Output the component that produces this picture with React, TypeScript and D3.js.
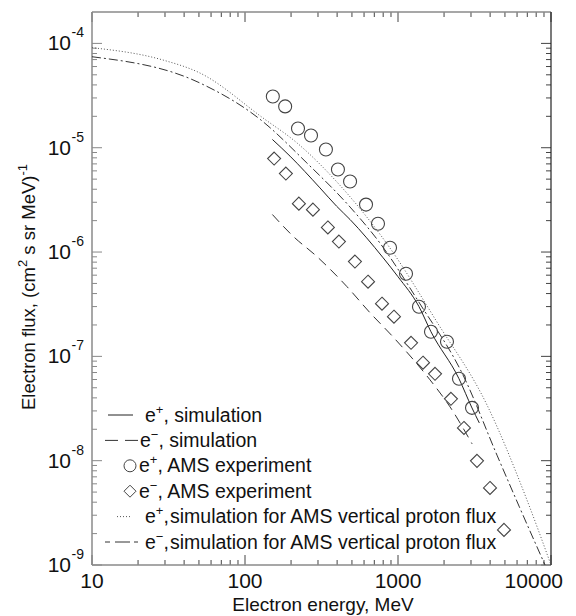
import * as d3 from "d3";

// e+ AMS experiment (circles)
const posE = [152, 183, 222, 270, 338, 405, 486, 618, 740, 887, 1128, 1371, 1643, 2090, 2504, 3046];
const posF = [3.1e-5, 2.49e-5, 1.53e-5, 1.31e-5, 9.6e-6, 6.18e-6, 4.74e-6, 2.85e-6, 1.87e-6, 1.1e-6, 6.2e-7, 2.99e-7, 1.72e-7, 1.38e-7, 6.1e-8, 3.21e-8];

// e- AMS experiment (diamonds)
const eleE = [155, 185, 225, 278, 348, 411, 523, 637, 786, 941, 1217, 1457, 1746, 2218, 2698, 3283, 3993, 4929];
const eleF = [7.87e-6, 5.65e-6, 2.91e-6, 2.55e-6, 1.72e-6, 1.26e-6, 8.1e-7, 5.2e-7, 3.2e-7, 2.4e-7, 1.35e-7, 8.7e-8, 6.8e-8, 3.92e-8, 2.06e-8, 9.96e-9, 5.48e-9, 2.17e-9];

// e+ simulation (solid)
const simPosE = [151, 197, 309, 397, 486, 800, 1000, 1371, 1643, 2504, 3046, 3400];
const simPosF = [1.2e-5, 8.3e-6, 4.12e-6, 2.75e-6, 2.05e-6, 8.8e-7, 5.8e-7, 3.0e-7, 1.72e-7, 6.1e-8, 3.2e-8, 2.3e-8];

// e- simulation (dashed)
const simEleE = [151, 206, 294, 462, 656, 927, 1618, 2188, 3050];
const simEleF = [2.29e-6, 1.42e-6, 9.1e-7, 4.69e-7, 2.62e-7, 1.54e-7, 5.96e-8, 3.28e-8, 1.45e-8];

// e+ simulation for AMS vertical proton flux (dotted)
const vertPosE = [10, 29.1, 50.8, 131, 219, 399, 887, 1799, 3820, 6970, 10000];
const vertPosF = [9.1e-5, 6.93e-5, 5.2e-5, 1.93e-5, 1.11e-5, 4.69e-6, 1.09e-6, 2.13e-7, 3.41e-8, 4.19e-9, 1e-9];

// e- simulation for AMS vertical proton flux (dash-dot)
const vertEleE = [10, 50.8, 125, 254, 486, 762, 1393, 2661, 4436, 6180, 9140];
const vertEleF = [7.45e-5, 4.17e-5, 1.88e-5, 7.13e-6, 2.7e-6, 1.22e-6, 3.18e-7, 6.62e-8, 1.13e-8, 3.67e-9, 1e-9];

const xMajor = [10, 100, 1000, 10000];
const xLabels = ["10", "100", "1000", "10000"];
const yExps = [-9, -8, -7, -6, -5, -4];

const font = "'Liberation Sans', Arial, Helvetica, sans-serif";

const App = () => {
  const left = 92, right = 551, top = 12, bottom = 565;
  const x = d3.scaleLog().domain([10, 10000]).range([left, right]);
  const y = d3.scaleLog().domain([1e-9, 2e-4]).range([bottom, top]);

  const line = d3
    .line<[number, number]>()
    .x(d => x(d[0]))
    .y(d => y(d[1]))
    .curve(d3.curveMonotoneX);

  const zip = (a: number[], b: number[]) => a.map((v, i) => [v, b[i]] as [number, number]);

  const xMinor: number[] = [];
  [10, 100, 1000].forEach(d => {
    for (let m = 2; m <= 9; m++) xMinor.push(d * m);
  });
  const yMinor: number[] = [];
  [-9, -8, -7, -6, -5].forEach(e => {
    for (let m = 2; m <= 9; m++) yMinor.push(m * Math.pow(10, e));
  });

  const diamond = (cx: number, cy: number, r: number) =>
    `M${cx},${cy - r}L${cx + r},${cy}L${cx},${cy + r}L${cx - r},${cy}Z`;

  const legRow = (i: number) => 415 + i * 25.4;
  const tc = "#111";

  return (
    <svg width={576} height={616} style={{ position: "absolute", left: 0, top: 0, background: "#fff" }}>
      <defs>
        <clipPath id="plotclip">
          <rect x={left} y={top} width={right - left} height={bottom - top} />
        </clipPath>
      </defs>

      {/* ticks */}
      <g stroke="#444" strokeWidth={1}>
        {xMajor.map(v => (
          <g key={"xM" + v}>
            <line x1={x(v)} x2={x(v)} y1={bottom} y2={bottom - 10} />
            <line x1={x(v)} x2={x(v)} y1={top} y2={top + 10} />
          </g>
        ))}
        {xMinor.map(v => (
          <g key={"xm" + v}>
            <line x1={x(v)} x2={x(v)} y1={bottom} y2={bottom - 5} />
            <line x1={x(v)} x2={x(v)} y1={top} y2={top + 5} />
          </g>
        ))}
        {yExps.map(e => (
          <g key={"yM" + e}>
            <line x1={left} x2={left + 10} y1={y(Math.pow(10, e))} y2={y(Math.pow(10, e))} stroke="#888" />
            <line x1={right} x2={right - 10} y1={y(Math.pow(10, e))} y2={y(Math.pow(10, e))} />
          </g>
        ))}
        {yMinor.map(v => (
          <g key={"ym" + v}>
            <line x1={left} x2={left + 5} y1={y(v)} y2={y(v)} stroke="#888" />
            <line x1={right} x2={right - 5} y1={y(v)} y2={y(v)} />
          </g>
        ))}
      </g>

      {/* frame */}
      <line x1={left} x2={right} y1={top} y2={top} stroke="#8a8a8a" strokeWidth={1.5} />
      <line x1={left} x2={right} y1={bottom} y2={bottom} stroke="#8a8a8a" strokeWidth={1.5} />
      <line x1={left} x2={left} y1={top} y2={bottom} stroke="#8a8a8a" strokeWidth={1.5} />
      <line x1={right} x2={right} y1={top} y2={bottom} stroke="#222" strokeWidth={1.2} />

      {/* curves */}
      <g clipPath="url(#plotclip)" fill="none" strokeWidth={1}>
        <path d={line(zip(simPosE, simPosF)) || ""} stroke="#222" />
        <path d={line(zip(simEleE, simEleF)) || ""} stroke="#333" strokeDasharray="10,6" />
        <path d={line(zip(vertPosE, vertPosF)) || ""} stroke="#555" strokeDasharray="1,2" />
        <path d={line(zip(vertEleE, vertEleF)) || ""} stroke="#333" strokeDasharray="9,3,2,3" />
      </g>

      {/* markers */}
      <g fill="none" stroke="#444" strokeWidth={1.1}>
        {posE.map((e, i) => (
          <circle key={"c" + i} cx={x(e)} cy={y(posF[i])} r={6.5} />
        ))}
        {eleE.map((e, i) => (
          <path key={"d" + i} d={diamond(x(e), y(eleF[i]), 6.5)} />
        ))}
      </g>

      {/* y tick labels */}
      <g fill={tc} fontFamily={font}>
        {yExps.map(e => (
          <g key={"yl" + e}>
            <text x={71} y={y(Math.pow(10, e)) + 7} fontSize={21} textAnchor="end">10</text>
            <text x={71.5} y={y(Math.pow(10, e)) - 6} fontSize={14}>{String(e)}</text>
          </g>
        ))}
      </g>

      {/* x tick labels */}
      <g fill={tc} fontFamily={font} fontSize={21}>
        {xMajor.map((v, i) =>
          i === xMajor.length - 1 ? (
            <text key={"xl" + v} x={563} y={588} textAnchor="end">{xLabels[i]}</text>
          ) : (
            <text key={"xl" + v} x={x(v)} y={588} textAnchor="middle">{xLabels[i]}</text>
          )
        )}
      </g>

      {/* axis titles */}
      <text x={323} y={611} fontFamily={font} fontSize={19} textAnchor="middle" fill={tc}>
        Electron energy, MeV
      </text>
      <text transform="translate(35,287) rotate(-90)" fontFamily={font} fontSize={18.5} textAnchor="middle" fill={tc}>
        Electron flux, (cm<tspan dy={-8} fontSize={13}>2</tspan>
        <tspan dy={8}> s sr MeV)</tspan>
        <tspan dy={-8} fontSize={13}>-1</tspan>
      </text>

      {/* legend */}
      <g fontFamily={font} fontSize={19.5} fill={tc}>
        <line x1={108} x2={133} y1={legRow(0)} y2={legRow(0)} stroke="#222" />
        <text x={145} y={legRow(0) + 6.5}>
          e<tspan dy={-8} fontSize={13}>+</tspan><tspan dy={8}>, simulation</tspan>
        </text>

        <line x1={105} x2={140} y1={legRow(1)} y2={legRow(1)} stroke="#333" strokeDasharray="13,7" />
        <text x={140} y={legRow(1) + 6.5}>
          e<tspan dy={-8} fontSize={13}>−</tspan><tspan dy={8}>, simulation</tspan>
        </text>

        <circle cx={130} cy={legRow(2)} r={6} fill="none" stroke="#444" />
        <text x={139} y={legRow(2) + 6.5}>
          e<tspan dy={-8} fontSize={13}>+</tspan><tspan dy={8}>, AMS experiment</tspan>
        </text>

        <path d={diamond(130, legRow(3), 6)} fill="none" stroke="#444" />
        <text x={139} y={legRow(3) + 6.5}>
          e<tspan dy={-8} fontSize={13}>−</tspan><tspan dy={8}>, AMS experiment</tspan>
        </text>

        <line x1={117} x2={132} y1={legRow(4)} y2={legRow(4)} stroke="#555" strokeDasharray="1,2" />
        <text x={145} y={legRow(4) + 6.5}>
          e<tspan dy={-8} fontSize={13}>+</tspan><tspan dy={8}>,</tspan>
        </text>
        <text x={170} y={legRow(4) + 6.5}>simulation for AMS vertical proton flux</text>

        <line x1={105} x2={139} y1={legRow(5)} y2={legRow(5)} stroke="#333" strokeDasharray="5,5,15,4,4" />
        <text x={145} y={legRow(5) + 6.5}>
          e<tspan dy={-8} fontSize={13}>−</tspan><tspan dy={8}>,</tspan>
        </text>
        <text x={170} y={legRow(5) + 6.5}>simulation for AMS vertical proton flux</text>
      </g>
    </svg>
  );
};

export default App;
